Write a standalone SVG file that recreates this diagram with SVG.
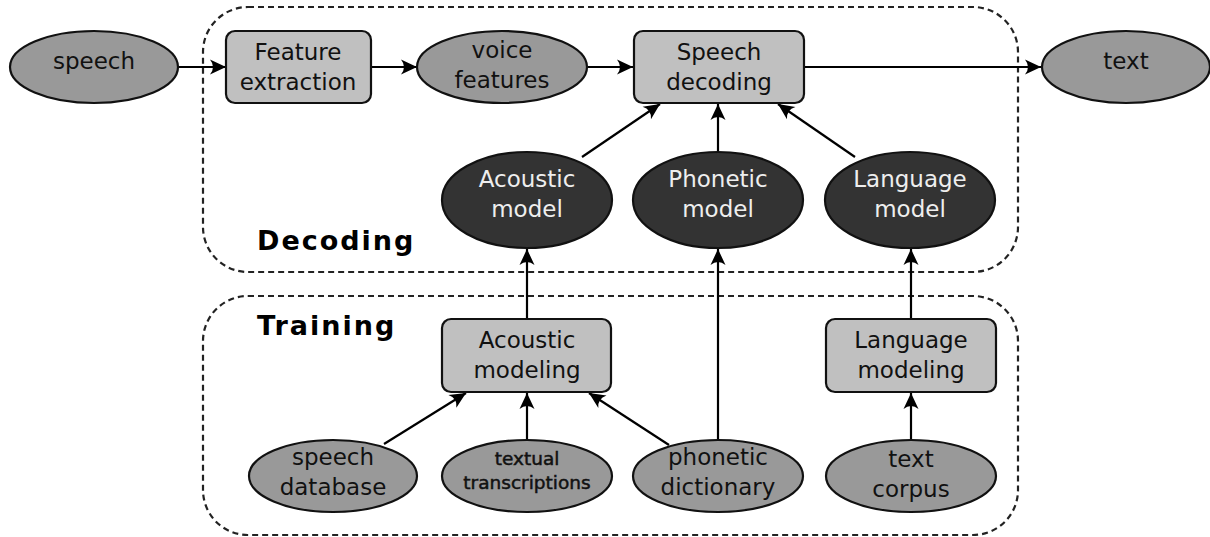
<svg xmlns="http://www.w3.org/2000/svg" width="1210" height="537" viewBox="0 0 1210 537">
<style>
.frame{fill:none;stroke:#222;stroke-width:2.2;stroke-dasharray:6,4}
.io{fill:#999;stroke:#111;stroke-width:2.2}
.box{fill:#c0c0c0;stroke:#111;stroke-width:2.2}
.dark{fill:#333;stroke:#111;stroke-width:2.2}
.t{font-family:"DejaVu Sans",sans-serif;font-size:23px;text-anchor:middle;fill:#111}
.w{fill:#eee}
.s{font-size:18.5px;stroke:#111;stroke-width:0.5}
.title{font-family:"DejaVu Sans",sans-serif;font-size:27px;font-weight:bold;fill:#000;letter-spacing:2px}
.c{fill:none;stroke:#000;stroke-width:2.2;marker-end:url(#ah)}
</style>
<defs>
<marker id="ah" markerUnits="userSpaceOnUse" viewBox="-18 -9 20 18" refX="0" refY="0" markerWidth="20" markerHeight="18" orient="auto">
<path d="M0,0 L-16,-7.5 Q-10,0 -16,7.5 Z" fill="#000"/>
</marker>
</defs>
<g id="frames">
<rect class="frame" x="203" y="7" width="815" height="265" rx="45" ry="45"/>
<rect class="frame" x="203" y="296" width="815" height="239" rx="45" ry="45"/>
<text class="title" x="257" y="250">Decoding</text>
<text class="title" x="257" y="335">Training</text>
</g>
<g id="connectors">
<path class="c" d="M178,67 H226"/>
<path class="c" d="M371,67 H417"/>
<path class="c" d="M587,67 H633"/>
<path class="c" d="M804,67 H1041"/>
<path class="c" d="M582,157 L660,104"/>
<path class="c" d="M718,151 V104"/>
<path class="c" d="M855,157 L778,104"/>
<path class="c" d="M527,319 V249"/>
<path class="c" d="M718,440 V249"/>
<path class="c" d="M911,319 V249"/>
<path class="c" d="M384,444 L466,393"/>
<path class="c" d="M527,440 V393"/>
<path class="c" d="M669,445 L589,393"/>
<path class="c" d="M911,440 V393"/>
</g>
<g id="speech"><ellipse class="io" cx="94" cy="67" rx="84" ry="36"/><text class="t" x="94" y="69">speech</text></g>
<g id="feature-extraction"><rect class="box" x="226" y="31" width="145" height="72" rx="9"/><text class="t" x="298" y="60">Feature</text><text class="t" x="298" y="90">extraction</text></g>
<g id="voice-features"><ellipse class="io" cx="502" cy="67" rx="85" ry="36"/><text class="t" x="502" y="58">voice</text><text class="t" x="502" y="88">features</text></g>
<g id="speech-decoding"><rect class="box" x="634" y="31" width="170" height="72" rx="9"/><text class="t" x="719" y="60">Speech</text><text class="t" x="719" y="90">decoding</text></g>
<g id="text-out"><ellipse class="io" cx="1126" cy="67" rx="84" ry="36"/><text class="t" x="1126" y="69">text</text></g>
<g id="acoustic-model"><ellipse class="dark" cx="527" cy="200" rx="85" ry="48"/><text class="t w" x="527" y="187">Acoustic</text><text class="t w" x="527" y="217">model</text></g>
<g id="phonetic-model"><ellipse class="dark" cx="718" cy="200" rx="85" ry="48"/><text class="t w" x="718" y="187">Phonetic</text><text class="t w" x="718" y="217">model</text></g>
<g id="language-model"><ellipse class="dark" cx="910" cy="200" rx="85" ry="48"/><text class="t w" x="910" y="187">Language</text><text class="t w" x="910" y="217">model</text></g>
<g id="acoustic-modeling"><rect class="box" x="442" y="319" width="169" height="73" rx="9"/><text class="t" x="527" y="348">Acoustic</text><text class="t" x="527" y="378">modeling</text></g>
<g id="language-modeling"><rect class="box" x="826" y="319" width="170" height="73" rx="9"/><text class="t" x="911" y="348">Language</text><text class="t" x="911" y="378">modeling</text></g>
<g id="speech-database"><ellipse class="io" cx="333" cy="476" rx="84" ry="36"/><text class="t" x="333" y="465">speech</text><text class="t" x="333" y="495">database</text></g>
<g id="textual-transcriptions"><ellipse class="io" cx="527" cy="476" rx="85" ry="36"/><text class="t s" x="527" y="465">textual</text><text class="t s" x="527" y="489">transcriptions</text></g>
<g id="phonetic-dictionary"><ellipse class="io" cx="718" cy="476" rx="85" ry="36"/><text class="t" x="718" y="465">phonetic</text><text class="t" x="718" y="495">dictionary</text></g>
<g id="text-corpus"><ellipse class="io" cx="911" cy="476" rx="85" ry="36"/><text class="t" x="911" y="467">text</text><text class="t" x="911" y="497">corpus</text></g>
</svg>
